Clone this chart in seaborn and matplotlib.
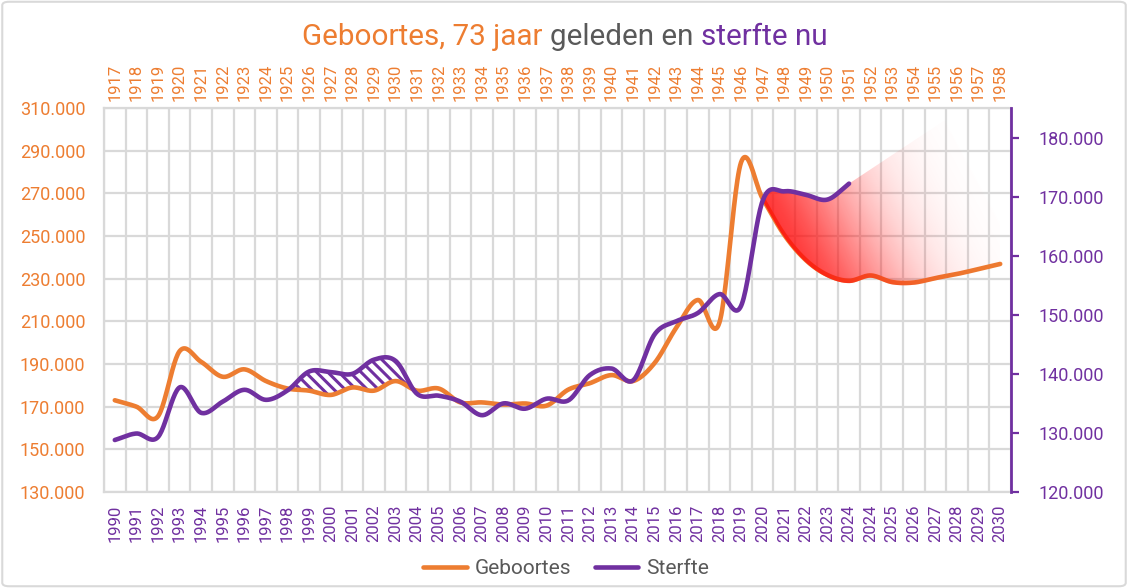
import numpy as np
import pandas as pd
import matplotlib
matplotlib.use("Agg")
import matplotlib.pyplot as plt
import seaborn as sns
from matplotlib.patches import Polygon, FancyBboxPatch
from matplotlib.lines import Line2D

# ---------------- data ----------------
bottom_labels = [str(y) for y in range(1990, 2025)] + ["2024", "2025", "2026", "2027", "2028", "2029", "2030"]
top_labels = [str(y) for y in range(1917, 1959)]

geboortes = [173000, 170000, 165500, 196000, 191000, 184000, 187500, 182000, 178500, 177500,
             175500, 179000, 177500, 182000, 177500, 178500, 172000, 172000, 171000, 171500,
             170500, 178000, 181000, 184800, 182000, 190500, 207000, 220000, 209500, 284500,
             267500, 250500, 238700, 231700, 229000, 231500, 228400, 228200, 230300, 232200,
             234500, 236900]

sterfte = [128800, 129900, 129300, 137700, 133400, 135300, 137300, 135600, 137200, 140400,
           140300, 140000, 142400, 142200, 136600, 136300, 135300, 133000, 135000, 134100,
           135800, 135500, 139800, 140900, 138900, 146700, 148900, 150300, 153500, 151500,
           169300, 170900, 170300, 169500, 172200]

left_range = (130000, 310000)
right_range = (120000, 185000)

ORANGE = "#ED7D31"
PURPLE = "#7030A0"
GRAY = "#595959"
GRID = "#D9D9D9"

sns.set_style("white")
plt.rcParams["font.family"] = ["Roboto", "DejaVu Sans"]
plt.rcParams["hatch.linewidth"] = 2.2


def smooth(vals, n=24):
    """Catmull-Rom rendering of a line through the given points (like Excel smoothed lines)."""
    y = np.asarray(vals, float)
    p = np.concatenate([[2 * y[0] - y[1]], y, [2 * y[-1] - y[-2]]])
    xs, ys = [], []
    t = np.linspace(0, 1, n, endpoint=False)
    for i in range(len(y) - 1):
        p0, p1, p2, p3 = p[i], p[i + 1], p[i + 2], p[i + 3]
        c1 = p1 + (p2 - p0) / 6
        c2 = p2 - (p3 - p1) / 6
        yy = (1 - t) ** 3 * p1 + 3 * (1 - t) ** 2 * t * c1 + 3 * (1 - t) * t ** 2 * c2 + t ** 3 * p2
        xs.append(i + t)
        ys.append(yy)
    xs.append([len(y) - 1])
    ys.append([y[-1]])
    return np.concatenate(xs), np.concatenate(ys)


def right_to_left(v):
    v = np.asarray(v, float)
    return left_range[0] + (v - right_range[0]) * (left_range[1] - left_range[0]) / (right_range[1] - right_range[0])


gx, gy = smooth(geboortes)
sx, sy = smooth(sterfte)
sy_left = right_to_left(sy)
gy_s = np.interp(sx, gx, gy)

fig = plt.figure(figsize=(11.28, 5.88), dpi=100)
W, H = 1128, 588
ax = fig.add_axes([104 / W, 96 / H, 907 / W, 384 / H])
ax.set_xlim(-0.5, 41.5)
ax.set_ylim(*left_range)
ax.set_facecolor("white")

# pixel <-> data helpers for the decorative fade shape
def to_data(px, py):
    return (px - 104) / 21.6 - 0.5, left_range[0] + (492 - py) * 468.7

# grid
ax.set_xticks(range(42))
ax.set_xticks(np.arange(-0.5, 42, 1), minor=True)
ax.set_yticks(range(left_range[0], left_range[1] + 1, 20000))
ax.grid(which="minor", axis="x", color=GRID, lw=1.6)
ax.grid(which="major", axis="y", color=GRID, lw=1.6)
ax.grid(which="major", axis="x", visible=False)
ax.set_axisbelow(True)
for s in ["left", "top", "bottom"]:
    ax.spines[s].set_color(GRID)
    ax.spines[s].set_linewidth(1.6)
ax.spines["right"].set_visible(False)

ax.set_xticklabels(bottom_labels, rotation=90)
ax.tick_params(axis="x", which="both", length=0, pad=9, labelsize=12, labelcolor=PURPLE)
ax.yaxis.set_major_formatter(lambda v, p: f"{int(v):,}".replace(",", "."))
ax.tick_params(axis="y", length=0, pad=13.5, labelsize=13, labelcolor=ORANGE)

sec = ax.secondary_xaxis("top")
sec.set_xticks(range(42))
sec.set_xticklabels(top_labels, rotation=90)
sec.tick_params(length=0, pad=5, labelsize=12, labelcolor=ORANGE)
sec.spines["top"].set_visible(False)

# hatched area (1998-2003)
mask = (sx >= 8) & (sx <= 14)
ax.fill_between(sx[mask], gy_s[mask], sy_left[mask], where=sy_left[mask] > gy_s[mask], interpolate=True,
                facecolor="white", edgecolor=PURPLE, hatch="\\\\\\", linewidth=0, zorder=1.5)

# orange line
sns.lineplot(x=gx, y=gy, ax=ax, color=ORANGE, linewidth=3.3, sort=False, estimator=None, zorder=2)

# red gradient area
reg = sx >= 29.5
dx = sx[reg]
diff = sy_left[reg] - gy_s[reg]
k = np.where(diff >= 0)[0][0]
xc = np.interp(0, [diff[k - 1], diff[k]], [dx[k - 1], dx[k]])
top_mask = sx >= xc
top_x = np.concatenate([[xc], sx[top_mask]])
top_y = np.concatenate([[np.interp(xc, gx, gy)], sy_left[top_mask]])
c1x, c1y = to_data(945, 120)
c2x, c2y = to_data(1000, 222)
bot_mask = gx >= xc
bot_x = gx[bot_mask][::-1]
bot_y = gy[bot_mask][::-1] - 1100
poly_pts = np.column_stack([np.concatenate([top_x, [c1x, c2x], bot_x]),
                            np.concatenate([top_y, [c1y, c2y], bot_y])])
poly = Polygon(poly_pts, closed=True, transform=ax.transData, facecolor="none", edgecolor="none")
ax.add_patch(poly)

gxx, gyy = np.meshgrid(np.linspace(29.5, 41.5, 600), np.linspace(left_range[0], left_range[1], 400))
px = 104 + 21.6 * (gxx + 0.5)
py = 492 - (gyy - left_range[0]) / 468.7
sdist = np.clip((px - 770) + 0.53 * (250 - py), 0, None)
alpha = 0.85 * np.exp(-(sdist / 112) ** 2)
rgba = np.zeros(gxx.shape + (4,))
rgba[..., 0] = 1.0
rgba[..., 1] = 0.05
rgba[..., 2] = 0.05
rgba[..., 3] = alpha
im = ax.imshow(rgba, extent=[29.5, 41.5, left_range[0], left_range[1]], origin="lower",
               aspect="auto", zorder=2.5, interpolation="bilinear")
im.set_clip_path(poly)
ax.set_xlim(-0.5, 41.5)
ax.set_ylim(*left_range)

# right axis: deaths
ax2 = ax.twinx()
ax2.set_ylim(*right_range)
ax2.set_yticks(range(120000, 180001, 10000))
ax2.yaxis.set_major_formatter(lambda v, p: f"{int(v):,}".replace(",", "."))
ax2.tick_params(axis="y", length=6, width=1.6, color=PURPLE, pad=14, labelsize=13, labelcolor=PURPLE)
for s in ["left", "top", "bottom"]:
    ax2.spines[s].set_visible(False)
ax2.spines["right"].set_color(PURPLE)
ax2.spines["right"].set_linewidth(2)
ax2.grid(False)
sns.lineplot(x=sx, y=sy, ax=ax2, color=PURPLE, linewidth=3.3, sort=False, estimator=None, zorder=3)
ax2.set_xlim(-0.5, 41.5)
ax2.set_ylim(*right_range)
ax2.set_xlabel("")
ax2.set_ylabel("")
ax.set_xlabel("")
ax.set_ylabel("")

# title in three colours
fig.canvas.draw()
r = fig.canvas.get_renderer()
parts = [("Geboortes, 73 jaar", ORANGE), ("geleden en", GRAY), ("sterfte nu", PURPLE)]
fs = 21.3
texts = [fig.text(0, 0.937, s, color=c, fontsize=fs, va="center", ha="left") for s, c in parts]
tmp = fig.text(0, 0, "a a", fontsize=fs)
tmp2 = fig.text(0, 0, "aa", fontsize=fs)
sp = tmp.get_window_extent(r).width - tmp2.get_window_extent(r).width
tmp.remove()
tmp2.remove()
widths = [t.get_window_extent(r).width for t in texts]
total = sum(widths) + sp * (len(widths) - 1)
xpos = 565 - total / 2
for t, w in zip(texts, widths):
    t.set_x(xpos / W)
    xpos += w + sp

handles = [Line2D([], [], color=ORANGE, lw=3.3), Line2D([], [], color=PURPLE, lw=3.3)]
fig.legend(handles, ["Geboortes", "Sterfte"], loc="center", bbox_to_anchor=(0.502, 19 / H), ncol=2,
           frameon=False, fontsize=15, labelcolor=GRAY, handlelength=2.1, columnspacing=1.1,
           handletextpad=0.4)

fig.patches.append(FancyBboxPatch((0.002, 0.003), 0.996, 0.994, boxstyle="round,pad=0,rounding_size=0.006",
                                  transform=fig.transFigure, fill=False, edgecolor=GRID, lw=1.5))

fig.savefig("out.png", dpi=100)
